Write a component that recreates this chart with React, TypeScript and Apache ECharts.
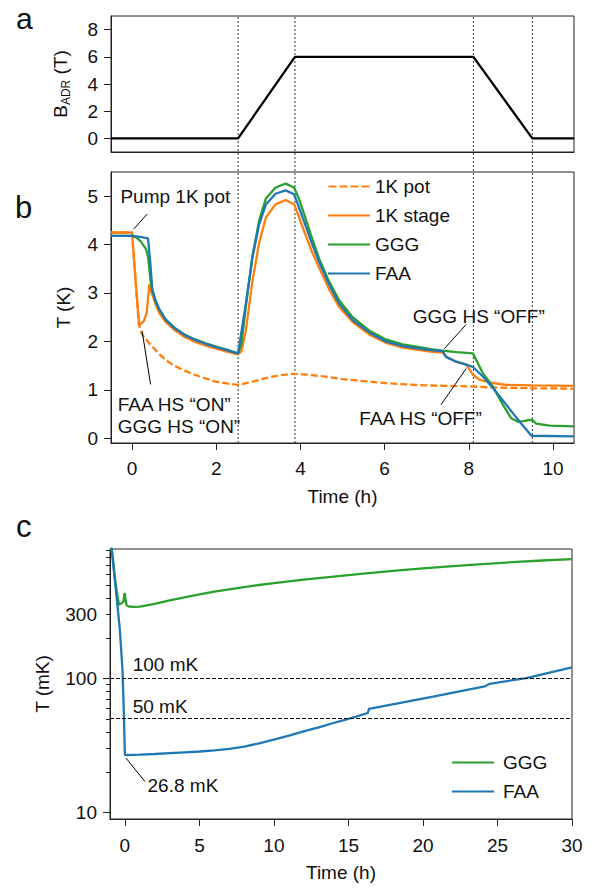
import React, { useEffect, useRef } from 'react';
import * as echarts from 'echarts';

const FONT = "'Liberation Sans', Arial, Helvetica, sans-serif";
const ORANGE = '#ff7f0e';
const GREEN = '#2ca02c';
const BLUE = '#1f77b4';
const INK = '#111111';

// ---------- Panel a : magnet field ----------
const fieldTime = [-0.5, 2.52, 3.87, 8.11, 9.51, 10.5];
const fieldB = [0, 0, 6, 6, 0, 0];
const markerTimes = [2.52, 3.87, 8.11, 9.51];
const aTicks = [0, 2, 4, 6, 8];

// ---------- Panel b : temperatures (K) ----------
const bTicksX = [0, 2, 4, 6, 8, 10];
const bTicksY = [0, 1, 2, 3, 4, 5];

const potTime = [-0.5, 0, 0.08, 0.16, 0.24, 0.4, 0.6, 0.79, 1.0, 1.19, 1.4, 1.59, 1.8, 1.98, 2.25, 2.52, 2.8, 3.17, 3.5, 3.81, 4.2, 4.6, 5.0, 5.5, 6.0, 6.5, 7.0, 7.5, 8.0, 8.5, 9.0, 9.5, 10.0, 10.5];
const potK = [4.25, 4.25, 3.3, 2.35, 2.14, 1.97, 1.78, 1.62, 1.5, 1.42, 1.34, 1.28, 1.22, 1.17, 1.13, 1.10, 1.15, 1.24, 1.3, 1.33, 1.31, 1.27, 1.22, 1.18, 1.14, 1.11, 1.09, 1.08, 1.07, 1.05, 1.04, 1.03, 1.03, 1.02];

const stageTime = [-0.5, 0, 0.08, 0.17, 0.28, 0.35, 0.41, 0.46, 0.5, 0.55, 0.65, 0.8, 1.0, 1.25, 1.5, 1.75, 2.0, 2.25, 2.52, 2.6, 2.7, 2.86, 3.02, 3.18, 3.41, 3.65, 3.85, 3.97, 4.1, 4.25, 4.44, 4.68, 4.92, 5.24, 5.64, 6.03, 6.43, 6.83, 7.1, 7.38, 7.46, 7.7, 7.94, 8.02, 8.1, 8.25, 8.49, 8.89, 9.52, 10.5];
const stageK = [4.25, 4.25, 3.3, 2.33, 2.42, 2.6, 3.18, 3.0, 2.93, 2.78, 2.58, 2.4, 2.24, 2.09, 1.99, 1.91, 1.85, 1.79, 1.73, 1.8, 2.2, 3.24, 4.04, 4.56, 4.83, 4.92, 4.83, 4.56, 4.25, 3.9, 3.53, 3.08, 2.71, 2.4, 2.14, 1.97, 1.87, 1.82, 1.79, 1.77, 1.68, 1.58, 1.52, 1.42, 1.31, 1.21, 1.15, 1.10, 1.09, 1.08];

const gggTime = [-0.5, 0, 0.1, 0.2, 0.33, 0.38, 0.44, 0.48, 0.55, 0.65, 0.8, 1.0, 1.25, 1.5, 1.75, 2.0, 2.25, 2.52, 2.6, 2.7, 2.86, 3.02, 3.18, 3.41, 3.65, 3.85, 3.97, 4.1, 4.25, 4.44, 4.68, 4.92, 5.24, 5.64, 6.03, 6.43, 6.83, 7.1, 7.38, 7.7, 8.1, 8.33, 8.57, 8.81, 9.01, 9.17, 9.3, 9.44, 9.52, 9.6, 9.92, 10.5];
const gggK = [4.18, 4.18, 4.15, 4.07, 3.91, 3.75, 3.25, 3.06, 2.85, 2.65, 2.45, 2.29, 2.14, 2.04, 1.96, 1.89, 1.83, 1.75, 1.95, 2.69, 3.76, 4.5, 4.95, 5.18, 5.26, 5.18, 4.94, 4.6, 4.2, 3.72, 3.24, 2.85, 2.5, 2.22, 2.04, 1.94, 1.88, 1.84, 1.81, 1.78, 1.75, 1.35, 1.07, 0.69, 0.41, 0.34, 0.35, 0.38, 0.37, 0.30, 0.26, 0.245];

const faaTime = [-0.5, 0, 0.1, 0.2, 0.38, 0.44, 0.48, 0.55, 0.65, 0.8, 1.0, 1.25, 1.5, 1.75, 2.0, 2.25, 2.52, 2.6, 2.7, 2.86, 3.02, 3.18, 3.41, 3.65, 3.85, 3.97, 4.1, 4.25, 4.44, 4.68, 4.92, 5.24, 5.64, 6.03, 6.43, 6.83, 7.1, 7.38, 7.46, 7.7, 7.94, 8.1, 8.33, 8.57, 8.89, 9.21, 9.49, 10.5];
const faaK = [4.18, 4.18, 4.17, 4.16, 4.13, 3.56, 3.08, 2.86, 2.66, 2.45, 2.28, 2.13, 2.03, 1.95, 1.88, 1.82, 1.75, 2.2, 2.76, 3.73, 4.42, 4.83, 5.05, 5.12, 5.04, 4.76, 4.45, 4.08, 3.65, 3.18, 2.78, 2.44, 2.18, 2.0, 1.9, 1.85, 1.82, 1.8, 1.68, 1.58, 1.52, 1.47, 1.28, 1.04, 0.69, 0.34, 0.05, 0.035];

// ---------- Panel c : low temperature hold (mK, log scale) ----------
const cTicksX = [0, 5, 10, 15, 20, 25, 30];
const cMajorTicks = [10, 100];
const cMinorTicks = [20, 30, 40, 50, 60, 70, 80, 90, 200, 300, 400, 500, 600, 700, 800, 900];
const cLabelTicks = [10, 100, 300];
const cRefLines = [100, 50];

const gggLowTime = [-1, -0.89, -0.78, -0.67, -0.55, -0.4, -0.25, -0.1, -0.03, 0, 0.05, 0.12, 0.3, 0.6, 1, 2, 3, 4, 5, 6, 7, 8, 9, 10, 12, 14, 16, 18, 20, 22, 24, 26, 28, 30];
const gggLowMK = [1100, 925, 746, 561, 450, 355, 362, 375, 425, 434, 380, 350, 343, 342, 344, 360, 382, 403, 424, 444, 462, 481, 498, 514, 546, 575, 605, 634, 662, 689, 714, 738, 759, 778];

const faaLowTime = [-1, -0.89, -0.56, -0.34, -0.16, -0.07, 0, 1, 2, 3, 4, 5, 6, 7, 8, 9, 10, 11, 12, 13, 14, 15, 16.3, 16.38, 18.4, 20.68, 24.14, 24.47, 26.93, 30];
const faaLowMK = [1100, 925, 409, 231, 116, 55, 26.8, 27.0, 27.3, 27.7, 28.1, 28.5, 29.0, 29.8, 31.0, 32.8, 35.0, 37.4, 40.2, 43.2, 46.5, 50, 55.2, 59.2, 65.5, 73.3, 87.1, 91.2, 100.7, 120.8];

const zip = (xs: number[], ys: number[]) => xs.map((x, i) => [x, ys[i]]);
const lg = (v: number) => Math.log10(v);

const axisLine = { show: true, onZero: false, lineStyle: { color: '#222', width: 1 } };
const tick = (vals: number[], len: number) => ({ show: true, customValues: vals, length: len, lineStyle: { color: '#222', width: 1 } });
const label = (vals: number[], margin: number, formatter?: any) => ({
  show: true, customValues: vals, margin, fontSize: 19, color: INK, fontFamily: FONT, formatter,
});
const nameStyle = { fontSize: 19, color: INK, fontFamily: FONT };
const DASH_ICON = 'path://M0,0h8v2h-8z M11,0h8v2h-8z M22,0h8v2h-8z M33,0h8v2h-8z';

export default function App() {
  const ref = useRef<HTMLDivElement>(null);
  useEffect(() => {
    if (!ref.current) return;
    const chart = echarts.init(ref.current, undefined, { renderer: 'svg' });
    const gridBox = { show: true, borderColor: '#222', borderWidth: 1, backgroundColor: 'transparent' };
    const lineSeries = (name: string, data: number[][], color: string, xi: number, yi: number, extra: any = {}) => ({
      type: 'line', name, data, xAxisIndex: xi, yAxisIndex: yi, showSymbol: false, symbol: 'none',
      lineStyle: { color, width: 2.3, ...(extra.lineStyle || {}) }, itemStyle: { color }, z: 3, clip: true,
    });
    const textPoints = (pts: any[], xi: number, yi: number, arrows: any[]) => ({
      type: 'scatter', xAxisIndex: xi, yAxisIndex: yi, symbolSize: 0, silent: true, z: 6,
      itemStyle: { opacity: 1, color: INK },
      data: pts.map((p) => ({ value: [p[0], p[1]], name: p[2] })),
      label: {
        show: true, position: 'right', distance: 0, formatter: (p: any) => p.name,
        fontSize: 19, color: INK, fontFamily: FONT, lineHeight: 22, align: 'left', verticalAlign: 'middle', opacity: 1,
      },
      markLine: {
        silent: true, symbol: ['none', 'arrow'], symbolSize: [0, 8], label: { show: false },
        lineStyle: { color: '#000', width: 1, type: 'solid', opacity: 1 },
        data: arrows.map((a) => [{ coord: [a[0], a[1]] }, { coord: [a[2], a[3]] }]),
      },
    });
    const legendText = { fontSize: 19, color: INK, fontFamily: FONT };

    const option: any = {
      animation: false,
      textStyle: { fontFamily: FONT },
      grid: [
        { left: 111, top: 16, width: 463, height: 136, ...gridBox },
        { left: 111, top: 172, width: 463, height: 271, ...gridBox },
        { left: 110, top: 549, width: 462, height: 270, ...gridBox },
        { left: 111, top: 16, width: 463, height: 427, show: false },
      ],
      xAxis: [
        { gridIndex: 0, type: 'value', min: -0.5, max: 10.5, axisLine, axisTick: { show: false }, axisLabel: { show: false }, splitLine: { show: false } },
        { gridIndex: 1, type: 'value', min: -0.5, max: 10.5, axisLine, axisTick: tick(bTicksX, 7), axisLabel: label(bTicksX, 16), splitLine: { show: false },
          name: 'Time (h)', nameLocation: 'middle', nameGap: 44, nameTextStyle: nameStyle },
        { gridIndex: 2, type: 'value', min: -1, max: 30, axisLine, axisTick: tick(cTicksX, 7), axisLabel: label(cTicksX, 17), splitLine: { show: false },
          name: 'Time (h)', nameLocation: 'middle', nameGap: 44, nameTextStyle: nameStyle },
        { gridIndex: 3, type: 'value', min: -0.5, max: 10.5, show: false },
      ],
      yAxis: [
        { gridIndex: 0, type: 'value', min: -1, max: 9, axisLine, axisTick: tick(aTicks, 7), axisLabel: label(aTicks, 13), splitLine: { show: false },
          name: '{n|B}{s|ADR}{n| (T)}', nameLocation: 'middle', nameGap: 39,
          nameTextStyle: { ...nameStyle, rich: { n: { fontSize: 19, fontFamily: FONT, color: INK, lineHeight: 24, verticalAlign: 'middle' }, s: { fontSize: 12, fontFamily: FONT, color: INK, lineHeight: 12, verticalAlign: 'bottom' } } } },
        { gridIndex: 1, type: 'value', min: -0.1, max: 5.5, axisLine, axisTick: tick(bTicksY, 7), axisLabel: label(bTicksY, 13), splitLine: { show: false },
          name: 'T (K)', nameLocation: 'middle', nameGap: 38, nameTextStyle: nameStyle },
        { gridIndex: 2, type: 'value', position: 'left', min: 0.951, max: 2.966, axisLine, axisTick: tick(cMajorTicks.map(lg), 7),
          axisLabel: label(cLabelTicks.map(lg), 13, (v: number) => String(Math.round(Math.pow(10, v)))), splitLine: { show: false },
          name: 'T (mK)', nameLocation: 'middle', nameGap: 58, nameTextStyle: nameStyle },
        { gridIndex: 2, type: 'value', position: 'left', min: 0.951, max: 2.966, axisLine: { show: false, onZero: false }, axisTick: tick(cMinorTicks.map(lg), 4), axisLabel: { show: false }, splitLine: { show: false } },
        { gridIndex: 3, type: 'value', min: 0, max: 1, show: false },
      ],
      legend: [
        { orient: 'vertical', left: 328, top: 177, padding: 0, itemWidth: 42, itemHeight: 2, itemGap: 10, textStyle: legendText,
          data: [{ name: '1K pot', icon: DASH_ICON }, { name: '1K stage', icon: 'rect' }, { name: 'GGG', icon: 'rect' }, { name: 'FAA', icon: 'rect' }] },
        { orient: 'vertical', left: 452, top: 753, padding: 0, itemWidth: 42, itemHeight: 2, itemGap: 10,
          textStyle: { ...legendText, padding: [0, 0, 0, 4] }, data: [{ name: 'GGG', icon: 'rect' }, { name: 'FAA', icon: 'rect' }] },
      ],
      series: [
        ...markerTimes.map((t) => ({
          type: 'line', data: [[t, 0], [t, 1]], xAxisIndex: 3, yAxisIndex: 4, symbol: 'none', silent: true, z: 1,
          lineStyle: { color: '#333', width: 1, type: [2, 2] },
        })),
        lineSeries('B', zip(fieldTime, fieldB), '#000', 0, 0, { lineStyle: { width: 2.3 } }),
        lineSeries('1K pot', zip(potTime, potK), ORANGE, 1, 1, { lineStyle: { type: [7, 3] } }),
        lineSeries('1K stage', zip(stageTime, stageK), ORANGE, 1, 1),
        lineSeries('GGG', zip(gggTime, gggK), GREEN, 1, 1),
        lineSeries('FAA', zip(faaTime, faaK), BLUE, 1, 1),
        textPoints([
          [-0.276, 4.99, 'Pump 1K pot'],
          [-0.34, 0.46, 'FAA HS “ON”\nGGG HS “ON”'],
          [6.67, 2.52, 'GGG HS “OFF”'],
          [5.40, 0.415, 'FAA HS “OFF”'],
        ], 1, 1, [
          [0.357, 4.63, 0.04, 4.32],
          [0.44, 1.11, 0.24, 2.21],
          [7.94, 2.35, 7.42, 1.85],
          [7.34, 0.69, 7.94, 1.44],
        ]),
        {
          type: 'line', data: [], xAxisIndex: 2, yAxisIndex: 2, symbol: 'none', silent: true,
          markLine: {
            silent: true, symbol: ['none', 'none'], label: { show: false },
            lineStyle: { color: '#000', width: 1, type: [4, 2] },
            data: cRefLines.map((v) => ({ yAxis: lg(v) })),
          },
        },
        lineSeries('GGG', zip(gggLowTime, gggLowMK.map(lg)), GREEN, 2, 2),
        lineSeries('FAA', zip(faaLowTime, faaLowMK.map(lg)), BLUE, 2, 2),
        textPoints([
          [0.52, lg(126), '100 mK'],
          [0.52, lg(62), '50 mK'],
          [1.52, 1.199, '26.8 mK'],
        ], 2, 2, [
          [1.34, 1.231, 0.07, 1.406],
        ]),
      ],
      graphic: [
        { type: 'text', left: 16, top: 3, style: { text: 'a', fontSize: 30, fontFamily: FONT, fill: INK } },
        { type: 'text', left: 15, top: 192, style: { text: 'b', fontSize: 31, fontFamily: FONT, fill: INK } },
        { type: 'text', left: 16, top: 511, style: { text: 'c', fontSize: 31, fontFamily: FONT, fill: INK } },
      ],
    };
    chart.setOption(option);
    return () => chart.dispose();
  }, []);
  return <div ref={ref} style={{ position: 'fixed', left: 0, top: 0, width: 595, height: 888, background: '#fff' }} />;
}
